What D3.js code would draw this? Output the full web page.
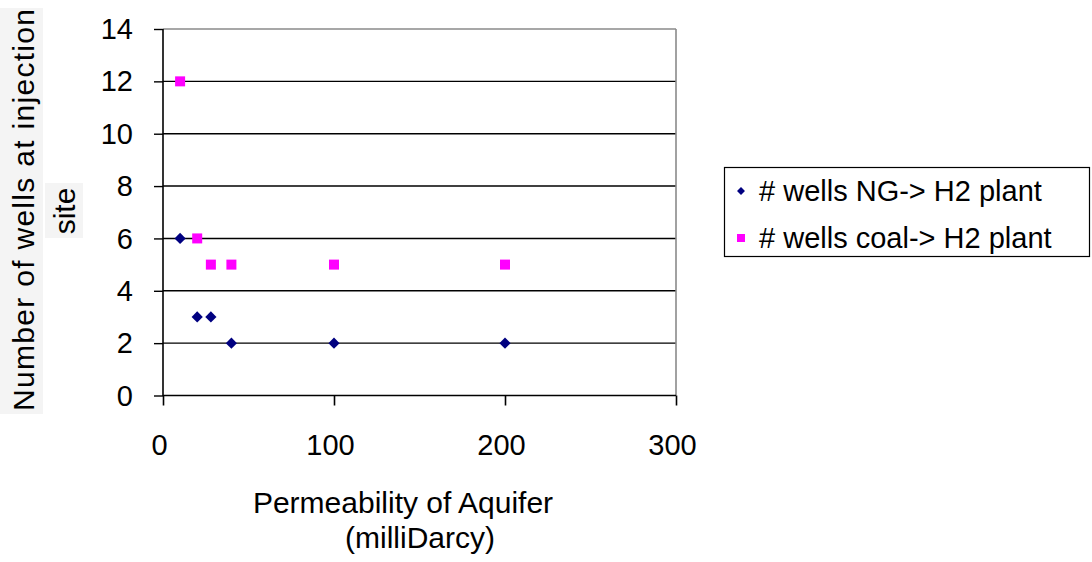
<!DOCTYPE html>
<html>
<head>
<meta charset="utf-8">
<script src="https://cdn.jsdelivr.net/npm/d3@7"></script>
<style>
  html, body { margin: 0; padding: 0; background: #fff; }
  svg { display: block; font-family: "Liberation Sans", Arial, sans-serif; }
</style>
</head>
<body>
<svg id="chart" width="1092" height="562"></svg>
<script>
// ---- data ----
const permeability = [10, 20, 28, 40, 100, 200];
const wellsNG = [6, 3, 3, 2, 2, 2];
const wellsCoal = [12, 6, 5, 5, 5, 5];
const seriesNames = ["# wells NG-> H2 plant", "# wells coal-> H2 plant"];
const xTicks = [0, 100, 200, 300];
const yTicks = [0, 2, 4, 6, 8, 10, 12, 14];
const xTitle = ["Permeability of Aquifer", "(milliDarcy)"];
const yTitle = ["Number of wells at injection", "site"];

// ---- layout ----
(function () {
const svg = d3.select("#chart");
const pLeft = 163, pRight = 676, pTop = 29, pBottom = 395.5;
const tickFont = 29, titleFont = 30, legendFont = 29;

const x = d3.scaleLinear().domain([0, 300]).range([pLeft, pRight]);
const y = d3.scaleLinear().domain([0, 14]).range([pBottom, pTop]);

// grid lines
svg.append("g").selectAll("line")
  .data(yTicks.filter(d => d > 0 && d < 14))
  .join("line")
  .attr("x1", pLeft).attr("x2", pRight)
  .attr("y1", d => y(d)).attr("y2", d => y(d))
  .attr("stroke", "#000").attr("stroke-width", 1.4);

// plot border (top & right grey)
svg.append("line").attr("x1", pLeft).attr("x2", pRight).attr("y1", y(14)).attr("y2", y(14))
  .attr("stroke", "#8a8a8a").attr("stroke-width", 1.6);
svg.append("line").attr("x1", pRight).attr("x2", pRight).attr("y1", y(14)).attr("y2", pBottom)
  .attr("stroke", "#8a8a8a").attr("stroke-width", 1.6);

// y axis
const yAxis = svg.append("g").attr("transform", `translate(${pLeft},0)`)
  .call(d3.axisLeft(y).tickValues(yTicks).tickSize(9).tickPadding(21).tickFormat(d3.format("d")));
yAxis.select(".domain").attr("stroke", "#000").attr("stroke-width", 1.6).attr("d", `M0,${pTop}V${pBottom + 0.5}`);
yAxis.selectAll(".tick line").attr("stroke", "#000").attr("stroke-width", 1.4);
yAxis.selectAll(".tick text").attr("font-size", tickFont).attr("fill", "#000")
  .attr("font-family", "Liberation Sans, Arial, sans-serif").attr("dy", "0.33em");

// x axis
const xAxis = svg.append("g").attr("transform", `translate(0,${pBottom})`)
  .call(d3.axisBottom(x).tickValues(xTicks).tickSize(10).tickPadding(29).tickFormat(d3.format("d")));
xAxis.select(".domain").attr("stroke", "#000").attr("stroke-width", 1.6).attr("d", `M${pLeft},0H${pRight}`);
xAxis.selectAll(".tick line").attr("stroke", "#000").attr("stroke-width", 1.6);
xAxis.selectAll(".tick text").attr("font-size", tickFont).attr("fill", "#000")
  .attr("font-family", "Liberation Sans, Arial, sans-serif").attr("dx", -4).attr("dy", "0.71em");

// axis titles
svg.append("text").attr("x", 403).attr("y", 513).attr("text-anchor", "middle")
  .attr("font-size", titleFont).text(xTitle[0]);
svg.append("text").attr("x", 420).attr("y", 548).attr("text-anchor", "middle")
  .attr("font-size", titleFont).text(xTitle[1]);

// y title backgrounds
svg.append("rect").attr("x", 0).attr("y", 8).attr("width", 43).attr("height", 406).attr("fill", "#f4f4f4");
svg.append("rect").attr("x", 45).attr("y", 183).attr("width", 38).attr("height", 55).attr("fill", "#f4f4f4");
svg.append("text").attr("transform", "translate(34,210) rotate(-90)")
  .attr("text-anchor", "middle").attr("font-size", titleFont)
  .attr("textLength", 402).attr("lengthAdjust", "spacing")
  .text(yTitle[0]);
svg.append("text").attr("transform", "translate(75,211) rotate(-90)")
  .attr("text-anchor", "middle").attr("font-size", titleFont).text(yTitle[1]);

// markers
const diamond = d3.symbol().type(d3.symbolDiamond2).size(80);
const pts = permeability.map((p, i) => ({ p, ng: wellsNG[i], coal: wellsCoal[i] }));
svg.append("g").selectAll("path")
  .data(pts).join("path")
  .attr("transform", d => `translate(${x(d.p)},${y(d.ng)})`)
  .attr("d", diamond).attr("fill", "#000080");
svg.append("g").selectAll("rect")
  .data(pts).join("rect")
  .attr("x", d => x(d.p) - 5).attr("y", d => y(d.coal) - 5)
  .attr("width", 10).attr("height", 10).attr("fill", "#ff00ff");

// legend
const lg = svg.append("g");
lg.append("rect").attr("x", 724.5).attr("y", 167.5).attr("width", 365).attr("height", 89)
  .attr("fill", "#fff").attr("stroke", "#000").attr("stroke-width", 1.2);
const legendY = [191, 238];
lg.append("path").attr("transform", `translate(741,${legendY[0]})`)
  .attr("d", d3.symbol().type(d3.symbolDiamond2).size(40)).attr("fill", "#000080");
lg.append("rect").attr("x", 737).attr("y", legendY[1] - 4).attr("width", 8).attr("height", 8).attr("fill", "#ff00ff");
seriesNames.forEach((s, i) => {
  lg.append("text").attr("x", 759).attr("y", legendY[i] + 10).attr("font-size", legendFont).text(s);
});
})();
</script>
</body>
</html>
